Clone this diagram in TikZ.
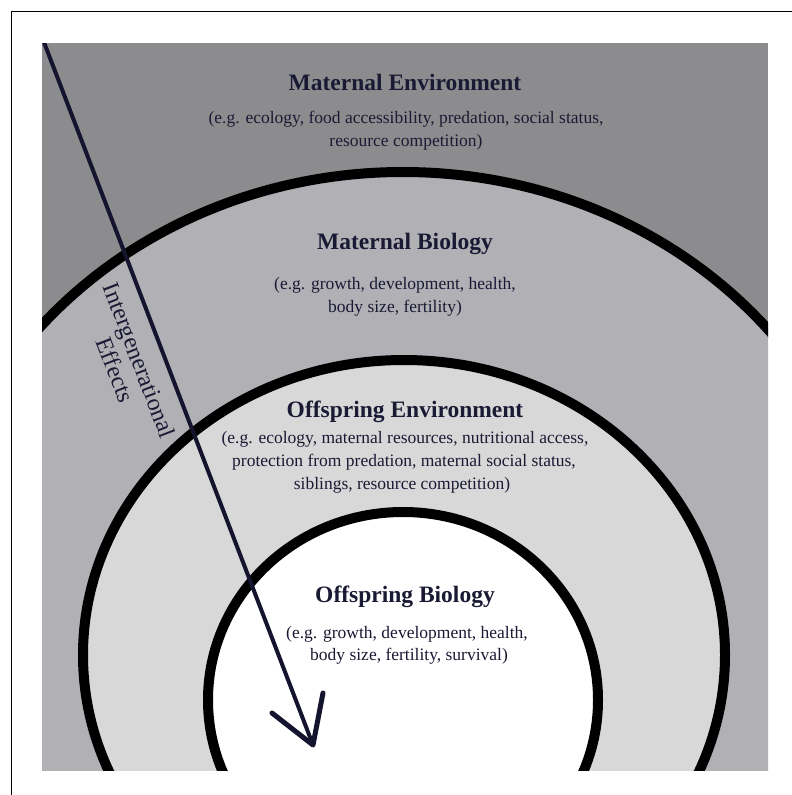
\documentclass[tikz,border=0pt]{standalone}
\usepackage{fontspec}
\setmainfont{Liberation Serif}
\definecolor{envA}{RGB}{140,140,142}
\definecolor{bioA}{RGB}{177,176,181}
\definecolor{envB}{RGB}{216,216,216}
\definecolor{ink}{RGB}{26,26,52}
\definecolor{arrowink}{RGB}{20,20,46}
\begin{document}
\begin{tikzpicture}[x=1pt,y=-1pt,
  ringline/.style={draw=black,line width=10pt},
  titletext/.style={anchor=base,inner sep=0pt,text=ink,font=\fontsize{23.5}{28}\selectfont\bfseries},
  bodytext/.style={anchor=base,inner sep=0pt,text=ink,font=\fontsize{17.5}{23}\selectfont},
  sidetext/.style={inner sep=0pt,text=ink,align=center,font=\fontsize{24}{26}\selectfont},
  arrowline/.style={draw=arrowink,line width=4pt},
  arrowhead/.style={draw=arrowink,line width=5pt,line cap=round,line join=round},
  frameline/.style={draw=black,line width=1pt}]
\useasboundingbox (0,0) rectangle (792,795);
% background panel
\fill[envA] (42,43) rectangle (768,770);
\begin{scope}
\clip (42,43) rectangle (768,770);
\path[fill=bioA,ringline] (403,609) ellipse [x radius=475pt, y radius=437pt];
\path[fill=envB,ringline] (404,655) ellipse [x radius=321pt, y radius=295pt];
\path[fill=white,ringline] (403,700) ellipse [x radius=195pt, y radius=188pt];
% arrow
\coordinate (astart) at (43.5,41);
\coordinate (atip) at (313,745);
\coordinate (armL) at (272,713);
\coordinate (armR) at (323,693);
\draw[arrowline] (astart) -- (atip);
\draw[arrowhead] (armL) -- (atip) -- (armR);
\end{scope}
% texts
\node[titletext] (t1) at (405,90) {Maternal Environment};
\node[bodytext] (b1a) at (406,123) {(e.g. ecology, food accessibility, predation, social status,};
\node[bodytext] (b1b) at (406,146) {resource competition)};
\node[titletext] (t2) at (405,249) {Maternal Biology};
\node[bodytext] (b2a) at (395,289) {(e.g. growth, development, health,};
\node[bodytext] (b2b) at (395,312) {body size, fertility)};
\node[titletext] (t3) at (405,417) {Offspring Environment};
\node[bodytext] (b3a) at (405,443) {(e.g. ecology, maternal resources, nutritional access,};
\node[bodytext] (b3b) at (404,466) {protection from predation, maternal social status,};
\node[bodytext] (b3c) at (402,489) {siblings, resource competition)};
\node[titletext] (t4) at (405,602) {Offspring Biology};
\node[bodytext] (b4a) at (407,638) {(e.g. growth, development, health,};
\node[bodytext] (b4b) at (409,660) {body size, fertility, survival)};
\node[sidetext,rotate=-69] (side) at (127.5,365) {Intergenerational\\Effects};
% frame
\coordinate (fA) at (11,795);
\coordinate (fB) at (11,11);
\coordinate (fC) at (792,11);
\draw[frameline] (fA) -- (fB) -- (fC);
\end{tikzpicture}
\end{document}
